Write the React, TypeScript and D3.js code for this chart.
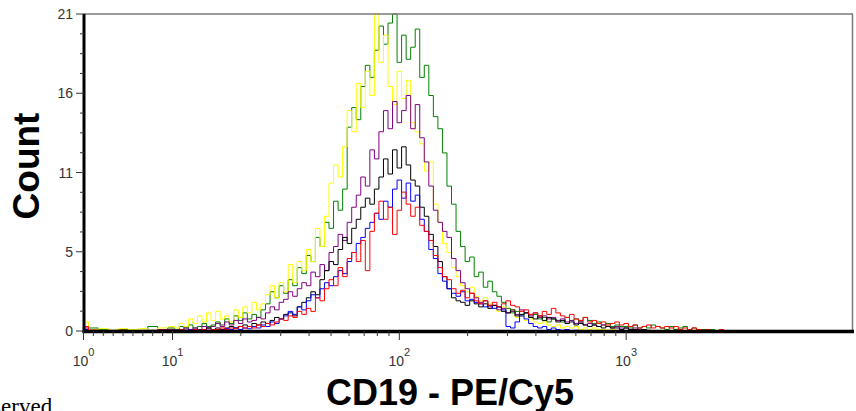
import React from "react";
import * as d3 from "d3";

const W = 856;
const H = 411;
const M = { left: 84, right: 853, top: 14, bottom: 331 };

// ---- axis definitions ----
const yMajorTicks = [0, 5.25, 10.5, 15.75, 21];
const yTickLabels = ["0", "5", "11", "16", "21"];
const xMajorTicks = [1, 10, 100, 1000];
const xMajorExponents = ["0", "1", "2", "3"];
const xMinorTicks = [2, 3, 4, 5, 6, 7, 8, 9, 20, 30, 40, 50, 60, 70, 80, 90, 200, 300, 400, 500, 600, 700, 800, 900];
const xTitle = "CD19 - PE/Cy5";
const yTitle = "Count";

// ---- histogram bins ----
// linear part of the axis (1..9), then log bins starting at 10, 50 bins per decade
const lowX = [1, 2, 3, 4, 5, 6, 7, 8, 9];
const BIN_START = 10;
const BINS_PER_DECADE = 50;

// ---- series (counts) ----
const greenLow = [0.1, 0.2, 0.1, 0.05, 0.1, 0.05, 0.05, 0.3, 0.1];
const greenCounts = [
  0.2, 0.1, 0.3, 0.2, 0.4, 0.2, 0.3, 0.5, 0.3, 0.4,
  0.6, 0.4, 0.8, 0.5, 1.0, 0.7, 1.2, 0.8, 1.1, 0.9,
  1.4, 1.8, 2.6, 2.2, 3.0, 2.5, 3.4, 3.0, 4.2, 3.8,
  5.0, 4.6, 6.2, 5.6, 7.2, 6.8, 8.6, 8.0, 9.4, 13.5,
  14.8, 14.0, 16.2, 17.6, 16.8, 18.6, 20.2, 19.0, 20.4, 21.0,
  17.8, 19.6, 18.0, 18.8, 20.0, 16.8, 17.6, 15.6, 14.2, 13.4,
  11.8, 9.6, 8.4, 6.6, 5.6, 4.6, 4.9, 3.6, 3.9, 2.9,
  3.3, 2.6, 2.3, 1.9, 1.5, 1.2, 1.3, 1.0, 1.2, 0.9,
  1.1, 0.8, 0.9, 0.6, 0.8, 0.7, 0.6, 0.9, 0.7, 0.8,
  0.6, 0.9, 0.7, 0.5, 0.6, 0.4, 0.5, 0.3, 0.4, 0.3,
  0.3, 0.2, 0.4, 0.2, 0.3, 0.2, 0.4, 0.3, 0.2, 0.1,
  0.3, 0.1, 0.2, 0.3, 0.1, 0.2, 0.1, 0.1, 0.05, 0.1,
  0, 0, 0, 0, 0, 0,
];

const yellowLow = [0.6, 0.1, 0.15, 0.05, 0.15, 0.1, 0.15, 0.05, 0.2];
const yellowCounts = [
  0.3, 0.2, 0.5, 0.3, 0.8, 0.5, 1.0, 0.6, 1.2, 0.7,
  1.3, 0.8, 1.0, 0.6, 1.4, 0.9, 1.6, 1.2, 1.9, 1.4,
  1.8, 2.4, 3.0, 2.2, 3.2, 2.6, 4.4, 3.2, 4.6, 4.0,
  5.4, 4.6, 6.8, 5.6, 7.6, 9.8, 11.0, 10.2, 12.2, 14.6,
  13.2, 16.4, 14.8, 17.2, 15.6, 21.0, 17.8, 19.6, 16.2, 15.0,
  17.2, 15.4, 16.6, 13.8, 13.2, 12.4, 10.6, 11.2, 8.4, 7.2,
  5.8, 5.2, 4.2, 3.6, 3.0, 2.6, 2.9, 2.3, 2.0, 2.2,
  1.8, 1.5, 1.3, 1.6, 1.2, 1.4, 0.9, 1.0, 0.7, 0.8,
  0.6, 0.5, 0.6, 0.4, 0.3, 0.4, 0.2, 0.3, 0.2, 0.3,
  0.1, 0.2, 0.1, 0.2, 0.1, 0.1, 0.05, 0.1, 0, 0.05,
  0, 0, 0, 0, 0, 0,
];

const purpleLow = [0.2, 0.05, 0, 0, 0, 0, 0, 0.05, 0.1];
const purpleCounts = [
  0.1, 0.05, 0.1, 0.2, 0.1, 0.2, 0.1, 0.3, 0.2, 0.3,
  0.5, 0.3, 0.6, 0.4, 0.7, 0.5, 0.8, 0.6, 0.7, 0.9,
  0.8, 1.2, 1.6, 1.4, 1.9, 2.1, 2.6, 2.3, 2.8, 3.2,
  3.0, 3.9, 3.6, 4.4, 4.0, 5.2, 5.6, 6.4, 6.0, 7.2,
  8.2, 9.0, 10.2, 9.6, 12.0, 11.4, 13.2, 14.6, 13.4, 15.2,
  13.8, 14.6, 15.6, 13.4, 15.0, 12.8, 11.2, 9.6, 8.0, 7.2,
  6.6, 6.2, 4.8, 4.0, 3.2, 2.8, 2.5, 2.2, 1.9, 2.0,
  1.6, 1.7, 1.4, 1.5, 1.2, 1.3, 1.1, 1.4, 1.2, 1.0,
  1.2, 0.9, 1.0, 0.8, 0.9, 0.7, 0.8, 0.6, 0.7, 0.5,
  0.6, 0.4, 0.5, 0.4, 0.3, 0.4, 0.3, 0.2, 0.3, 0.2,
  0.2, 0.1, 0.2, 0.1, 0.1, 0.05, 0, 0, 0, 0,
];

const blackLow = [0.1, 0, 0, 0, 0, 0, 0, 0, 0.05];
const blackCounts = [
  0.05, 0, 0.1, 0.05, 0.1, 0.05, 0.1, 0.1, 0.2, 0.1,
  0.2, 0.1, 0.2, 0.3, 0.2, 0.3, 0.4, 0.3, 0.5, 0.4,
  0.6, 0.5, 0.7, 0.9, 0.8, 1.1, 1.2, 1.0, 1.6, 1.9,
  2.2, 2.6, 2.4, 3.4, 4.0, 4.6, 4.4, 5.4, 6.2, 5.8,
  6.8, 7.4, 8.2, 8.8, 8.4, 9.4, 10.2, 11.4, 10.4, 12.0,
  10.8, 12.2, 11.0, 10.0, 9.6, 8.2, 7.6, 6.4, 5.6, 4.6,
  3.6, 2.8, 2.2, 2.0, 1.9, 1.7, 2.0, 1.8, 1.6, 1.8,
  1.5, 1.7, 1.6, 1.3, 1.2, 1.4, 1.0, 1.1, 1.2, 0.9,
  0.8, 1.0, 0.7, 0.9, 0.8, 0.6, 0.7, 0.5, 0.6, 0.4,
  0.5, 0.4, 0.3, 0.4, 0.3, 0.2, 0.3, 0.2, 0.2, 0.1,
  0.2, 0.1, 0.1, 0.05, 0.1, 0, 0, 0, 0, 0,
];

const blueLow = [0.1, 0, 0, 0, 0, 0, 0, 0, 0];
const blueCounts = [
  0, 0.05, 0, 0.05, 0.1, 0, 0.05, 0.1, 0.05, 0.1,
  0.1, 0.05, 0.15, 0.1, 0.2, 0.1, 0.2, 0.15, 0.3, 0.2,
  0.4, 0.3, 0.6, 0.5, 0.8, 1.0, 1.3, 1.1, 1.6, 1.4,
  2.0, 2.4, 2.2, 2.8, 3.2, 3.0, 3.6, 4.0, 3.8, 4.6,
  5.2, 5.8, 6.2, 6.8, 7.2, 7.8, 7.4, 8.6, 8.2, 9.4,
  10.0, 8.8, 9.8, 8.6, 9.0, 7.4, 6.6, 5.4, 4.8, 3.8,
  3.3, 2.8, 2.5, 2.3, 2.6, 2.0, 2.1, 1.9, 1.8, 1.6,
  1.7, 1.5, 1.6, 1.4, 0.3, 0.2, 0.6, 1.0, 0.8, 0.5,
  0.3, 0.2, 0.3, 0.1, 0.2, 0.1, 0.05, 0.1, 0, 0.05,
  0, 0, 0, 0, 0,
];

const redLow = [0.3, 0.05, 0, 0, 0.05, 0, 0, 0, 0.05];
const redCounts = [
  0.05, 0, 0.1, 0, 0.05, 0.1, 0.05, 0.1, 0.05, 0.1,
  0.1, 0.2, 0.1, 0.2, 0.15, 0.3, 0.2, 0.3, 0.2, 0.4,
  0.3, 0.5, 0.4, 0.6, 0.8, 0.7, 1.0, 0.9, 1.3, 1.1,
  1.5, 1.3, 2.2, 2.0, 2.8, 3.4, 3.0, 4.2, 3.6, 4.8,
  5.2, 4.6, 6.0, 4.0, 6.6, 7.8, 8.6, 7.4, 8.2, 6.4,
  8.0, 9.2, 8.4, 7.6, 8.2, 7.0, 6.6, 6.0, 5.0, 4.2,
  3.6, 3.4, 2.8, 2.5, 2.7, 2.2, 2.5, 2.0, 1.8, 2.0,
  1.7, 1.9, 1.6, 1.8, 2.0, 1.7, 1.6, 1.3, 1.4, 1.1,
  1.2, 1.0, 1.3, 1.1, 1.5, 1.2, 1.0, 0.9, 1.1, 0.8,
  0.7, 0.9, 0.6, 0.7, 0.5, 0.6, 0.4, 0.5, 0.6, 0.4,
  0.5, 0.3, 0.4, 0.2, 0.3, 0.4, 0.2, 0.3, 0.2, 0.3,
  0.2, 0.3, 0.1, 0.2, 0.1, 0.2, 0.1, 0.05, 0.1, 0,
  0, 0.1, 0, 0, 0, 0,
];

const seriesList = [
  { name: "green", color: "#008000", low: greenLow, counts: greenCounts },
  { name: "yellow", color: "#FFFF00", low: yellowLow, counts: yellowCounts },
  { name: "purple", color: "#800080", low: purpleLow, counts: purpleCounts },
  { name: "black", color: "#000000", low: blackLow, counts: blackCounts },
  { name: "blue", color: "#0000FF", low: blueLow, counts: blueCounts },
  { name: "red", color: "#FF0000", low: redLow, counts: redCounts },
];

// ---- scales ----
const xLin = d3.scaleLinear().domain([1, 10]).range([83.5, 172.5]);
const xLog = d3.scaleLog().domain([10, 10000]).range([172.5, M.right]);
const x = (v: number) => (v < 10 ? xLin(v) : xLog(v));
const y = d3.scaleLinear().domain([0, 21]).range([M.bottom, M.top]);

const binValue = (i: number) => BIN_START * Math.pow(10, i / BINS_PER_DECADE);

const line = d3
  .line<[number, number]>()
  .x((d) => x(d[0]))
  .y((d) => y(d[1]))
  .curve(d3.curveStep);

const FONT = "'Liberation Sans', Arial, Helvetica, sans-serif";

export default function App() {
  const yMinor: number[] = [];
  for (let k = 0; k < yMajorTicks.length - 1; k++) {
    const a = yMajorTicks[k];
    const b = yMajorTicks[k + 1];
    for (let j = 1; j < 4; j++) yMinor.push(a + ((b - a) * j) / 4);
  }

  return (
    <svg
      width={W}
      height={H}
      style={{ position: "absolute", left: 0, top: 0, background: "#fff" }}
    >
      <rect x={0} y={0} width={W} height={H} fill="#fff" />
      {/* series */}
      <g fill="none" strokeWidth={1} strokeLinejoin="miter">
        {seriesList.map((s) => {
          const pts: [number, number][] = [
            ...lowX.map((v, k) => [v, s.low[k]] as [number, number]),
            ...s.counts.map((c, i) => [binValue(i), c] as [number, number]),
          ];
          return <path key={s.name} d={line(pts) || ""} stroke={s.color} />;
        })}
      </g>

      {/* frame */}
      <line x1={M.left} x2={M.right} y1={M.top} y2={M.top} stroke="#7a7a7a" strokeWidth={1.5} />
      <line x1={M.right - 0.5} x2={M.right - 0.5} y1={M.top} y2={M.bottom} stroke="#7a7a7a" strokeWidth={1.5} />
      <line x1={M.left} x2={M.left} y1={M.top} y2={M.bottom + 2} stroke="#000" strokeWidth={3} />
      <line x1={M.left - 1.5} x2={M.right + 1} y1={M.bottom + 0.5} y2={M.bottom + 0.5} stroke="#000" strokeWidth={3.5} />

      {/* y ticks */}
      {yMajorTicks.map((t, k) => (
        <g key={"ym" + k}>
          <line x1={76} x2={M.left} y1={y(t)} y2={y(t)} stroke="#333" strokeWidth={1} />
          <text
            x={73}
            y={y(t)}
            dy="0.36em"
            textAnchor="end"
            fontFamily={FONT}
            fontSize={14}
            fill="#333"
          >
            {yTickLabels[k]}
          </text>
        </g>
      ))}
      {yMinor.map((t, k) => (
        <line key={"yn" + k} x1={80} x2={M.left} y1={y(t)} y2={y(t)} stroke="#333" strokeWidth={1} />
      ))}

      {/* x ticks */}
      {xMajorTicks.map((t, k) => (
        <g key={"xm" + k}>
          <line x1={x(t)} x2={x(t)} y1={M.bottom} y2={M.bottom + 9} stroke="#333" strokeWidth={1} />
          <text x={x(t)} y={366} textAnchor="middle" fontFamily={FONT} fill="#333" fontSize={14}>
            <tspan>10</tspan>
            <tspan fontSize={11} dy={-10}>
              {xMajorExponents[k]}
            </tspan>
          </text>
        </g>
      ))}
      {xMinorTicks.map((t, k) => (
        <line key={"xn" + k} x1={x(t)} x2={x(t)} y1={M.bottom} y2={M.bottom + 5} stroke="#333" strokeWidth={1} />
      ))}

      {/* titles */}
      <text
        transform={`translate(39, 166) rotate(-90)`}
        textAnchor="middle"
        fontFamily={FONT}
        fontWeight="bold"
        fontSize={37}
        fill="#000"
      >
        {yTitle}
      </text>
      <text x={450} y={405} textAnchor="middle" fontFamily={FONT} fontWeight="bold" fontSize={36} fill="#000">
        {xTitle}
      </text>
      <text x={-36} y={414} fontFamily="'Liberation Serif', 'Times New Roman', serif" fontSize={23} fill="#000">
        Observed
      </text>
    </svg>
  );
}
